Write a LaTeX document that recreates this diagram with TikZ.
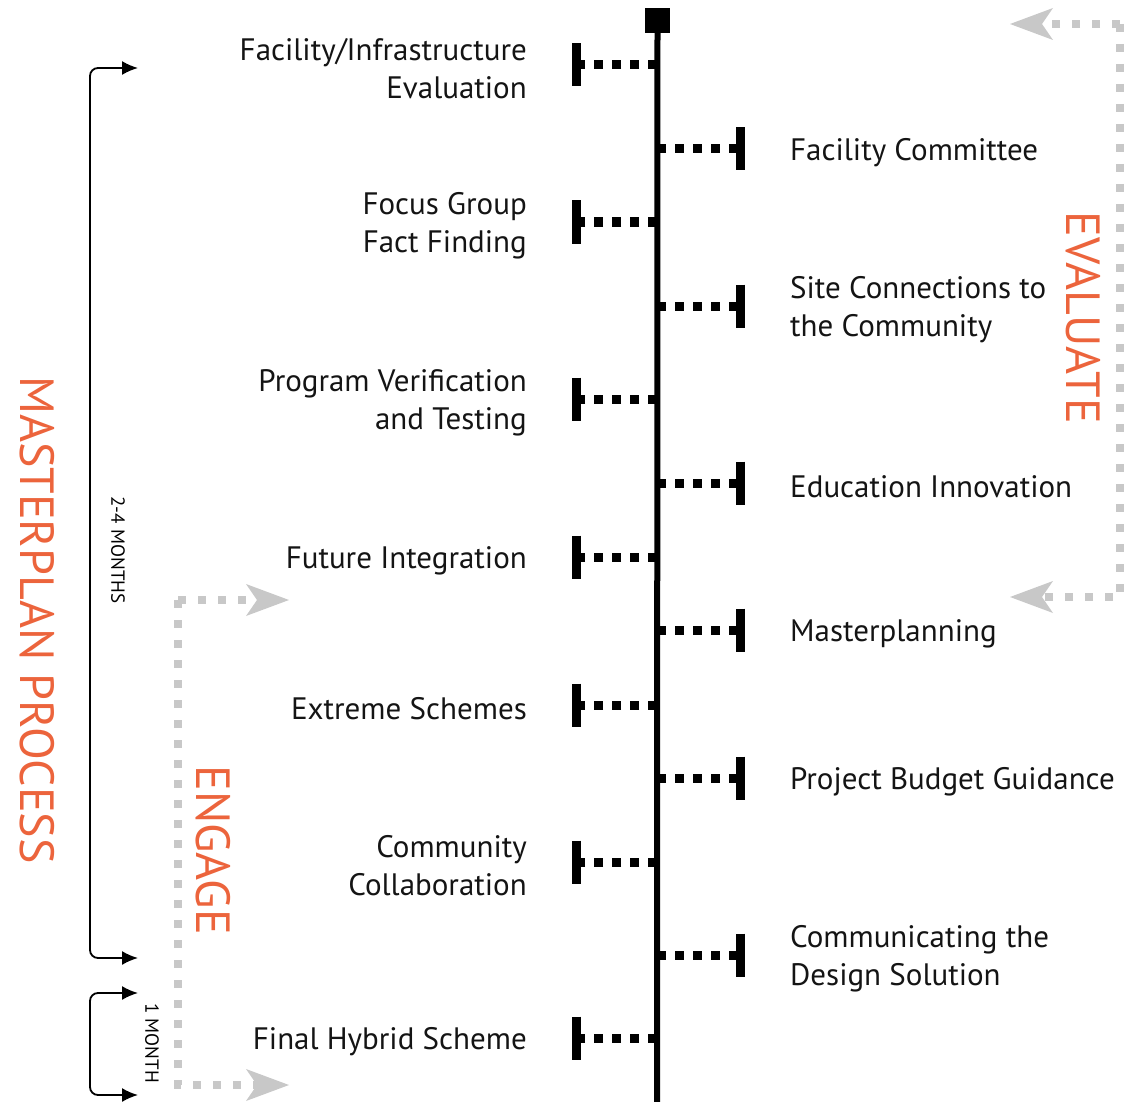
\documentclass[tikz,border=0pt]{standalone}
\usepackage{fontspec}
\setmainfont{PT Sans}
\usetikzlibrary{arrows.meta}

\definecolor{mporange}{RGB}{236,100,60}
\definecolor{mpgrey}{RGB}{200,200,200}
\definecolor{mpink}{RGB}{20,20,20}

\tikzset{
  stepL/.style={anchor=east, align=right, inner sep=0pt, text=mpink, xshift=-49pt, yshift=-4pt, font=\fontsize{31}{38}\selectfont},
  stepR/.style={anchor=west, align=left, inner sep=0pt, text=mpink, xshift=50pt, yshift=-4pt, font=\fontsize{31}{38}\selectfont},
  tickbar/.style={line width=9pt},
  tickdots/.style={line width=9pt, dash pattern=on 9pt off 9pt},
  greydots/.style={draw=mpgrey, line width=8pt, dash pattern=on 8pt off 12pt,
    -{Stealth[length=43pt,width=32pt,inset=11pt,line width=0pt,color=mpgrey]}},
  bracket/.style={line width=1.8pt, rounded corners=8pt,
    {Latex[length=16pt,width=14pt]}-{Latex[length=16pt,width=14pt]}},
  phase/.style={text=mporange, rotate=-90, inner sep=0pt, font=\fontsize{48}{48}\selectfont},
  span/.style={rotate=-90, inner sep=0pt, font=\fontsize{19}{19}\selectfont},
}

\begin{document}
\begin{tikzpicture}[x=1pt,y=-1pt]
	\useasboundingbox (0,0) rectangle (1140,1102);
	% timeline
	\node[fill, minimum size=25pt, inner sep=0pt] (cap) at (657.5,20.5) {};
	\coordinate (spine) at (657,1102);
	\draw[line width=6pt] (cap.center) -- (spine);
	% tick points
	\foreach \n/\y in {fie/65,fgf/222,pvt/399,fui/557,exs/705,coc/862,fhs/1038}
		\coordinate (\n) at (576,\y);
	\foreach \n/\y in {fac/149,scc/306,edi/483,mpl/630,pbg/778,cds/955}
		\coordinate (\n) at (740,\y);
	% left steps
	\node[stepL] (fie-txt) at (fie) {Facility/Infrastructure\\Evaluation};
	\node[stepL] (fgf-txt) at (fgf) {Focus Group\\Fact Finding};
	\node[stepL] (pvt-txt) at (pvt) {Program Verification\\and Testing};
	\node[stepL] (fui-txt) at (fui) {Future Integration};
	\node[stepL] (exs-txt) at (exs) {Extreme Schemes};
	\node[stepL] (coc-txt) at (coc) {Community\\Collaboration};
	\node[stepL] (fhs-txt) at (fhs) {Final Hybrid Scheme};
	% right steps
	\node[stepR] (fac-txt) at (fac) {Facility Committee};
	\node[stepR] (scc-txt) at (scc) {Site Connections to\\the Community};
	\node[stepR] (edi-txt) at (edi) {Education Innovation};
	\node[stepR] (mpl-txt) at (mpl) {Masterplanning};
	\node[stepR] (pbg-txt) at (pbg) {Project Budget Guidance};
	\node[stepR] (cds-txt) at (cds) {Communicating the\\Design Solution};
	% ticks
	\foreach \n in {fie,fgf,pvt,fui,exs,coc,fhs,fac,scc,edi,mpl,pbg,cds}{
		\draw[tickdots] (spine |- \n) -- (\n);
		\draw[tickbar] ([yshift=21.5pt]\n) -- ([yshift=-21.5pt]\n);
	}
	% duration brackets
	\coordinate (mp-a) at (138,68);
	\coordinate (mp-b) at (138,958);
	\coordinate (hy-a) at (138,993);
	\coordinate (hy-b) at (138,1095);
	\draw[bracket] (mp-a) -| (90,513) |- (mp-b);
	\draw[bracket] (hy-a) -| (90,1044) |- (hy-b);
	\node[span] (mp-len) at (118,550) {2-4 MONTHS};
	\node[span] (hy-len) at (152,1043) {1 MONTH};
	% engage / evaluate loops
	\coordinate (en-a) at (289,600);
	\coordinate (en-b) at (289,1085);
	\coordinate (en-c) at (178,600);
	\draw[greydots] (en-c) -- (en-a);
	\draw[greydots] (en-c) |- (en-b);
	\coordinate (ev-a) at (1010,24);
	\coordinate (ev-b) at (1010,597);
	\coordinate (ev-c) at (1120,24);
	\draw[greydots] (ev-c) -- (ev-a);
	\draw[greydots] (ev-c) |- (ev-b);
	% phase labels
	\node[phase] (mpp) at (37,620) {MASTERPLAN PROCESS};
	\node[phase] (eng) at (213,850) {ENGAGE};
	\node[phase] (eva) at (1083,318) {EVALUATE};
\end{tikzpicture}
\end{document}
